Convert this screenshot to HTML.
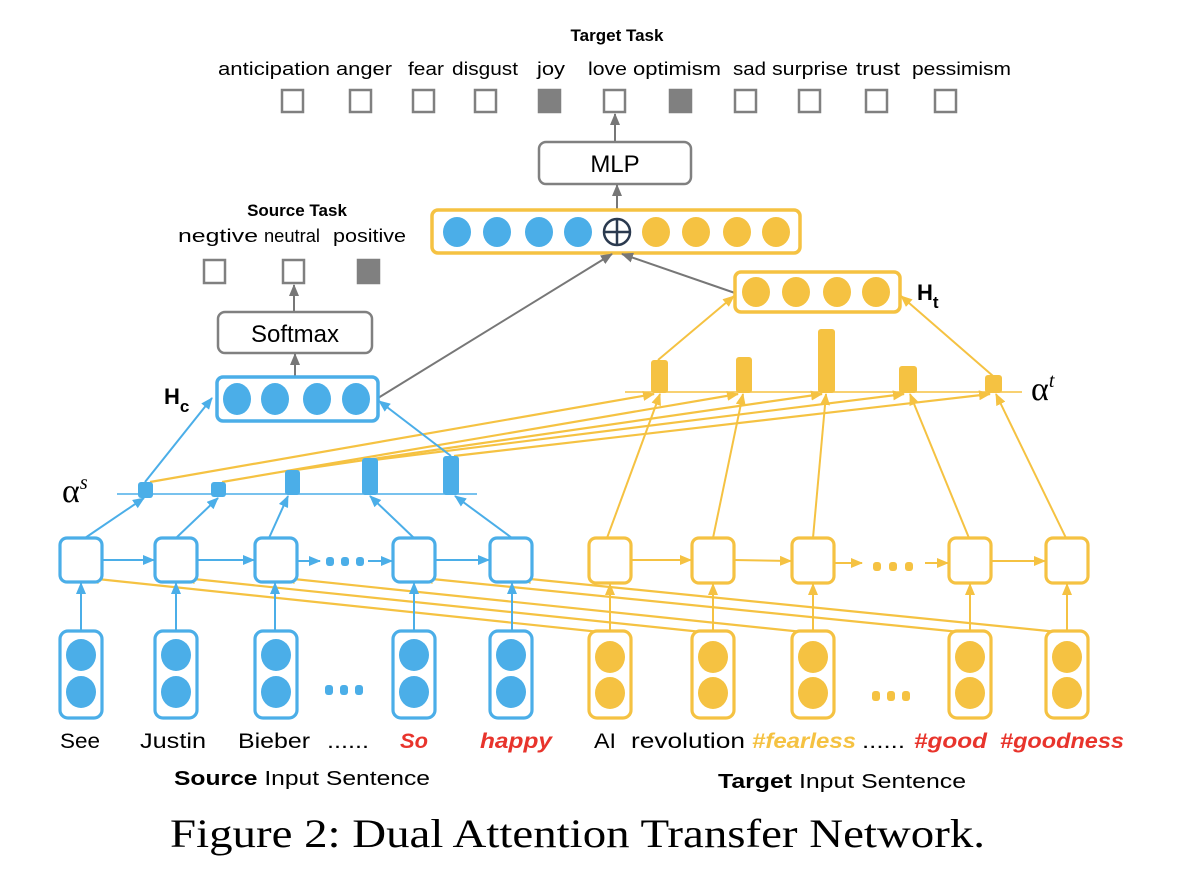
<!DOCTYPE html>
<html><head><meta charset="utf-8"><style>
html,body{margin:0;padding:0;background:#fff;}
svg{display:block;}
text{font-family:"Liberation Sans",sans-serif;}
text.serif{font-family:"Liberation Serif",serif;}
</style></head><body>
<svg width="1182" height="882" viewBox="0 0 1182 882" xmlns="http://www.w3.org/2000/svg">
<defs>
<marker id="ay" markerWidth="12" markerHeight="10" refX="11" refY="5" orient="auto" markerUnits="userSpaceOnUse"><path d="M0,0 L12,5 L0,10 z" fill="#f5c242"/></marker>
<marker id="ag" markerWidth="12" markerHeight="10" refX="11" refY="5" orient="auto" markerUnits="userSpaceOnUse"><path d="M0,0 L12,5 L0,10 z" fill="#777"/></marker>
<marker id="abb" markerWidth="12" markerHeight="10" refX="11" refY="5" orient="auto" markerUnits="userSpaceOnUse"><path d="M0,0 L12,5 L0,10 z" fill="#4baee8"/></marker>
</defs>

<text x="617" y="41" font-size="17" font-weight="bold" text-anchor="middle">Target Task</text>
<g font-size="18">
<text x="218" y="75" textLength="112" lengthAdjust="spacingAndGlyphs">anticipation</text>
<text x="336" y="75" textLength="56" lengthAdjust="spacingAndGlyphs">anger</text>
<text x="408" y="75" textLength="36" lengthAdjust="spacingAndGlyphs">fear</text>
<text x="452" y="75" textLength="66" lengthAdjust="spacingAndGlyphs">disgust</text>
<text x="537" y="75" textLength="28" lengthAdjust="spacingAndGlyphs">joy</text>
<text x="588" y="75" textLength="39" lengthAdjust="spacingAndGlyphs">love</text>
<text x="633" y="75" textLength="88" lengthAdjust="spacingAndGlyphs">optimism</text>
<text x="733" y="75" textLength="33" lengthAdjust="spacingAndGlyphs">sad</text>
<text x="772" y="75" textLength="76" lengthAdjust="spacingAndGlyphs">surprise</text>
<text x="856" y="75" textLength="44" lengthAdjust="spacingAndGlyphs">trust</text>
<text x="912" y="75" textLength="99" lengthAdjust="spacingAndGlyphs">pessimism</text>
</g>
<g stroke="#808080" stroke-width="2.5" fill="none">
<rect x="282" y="90" width="21" height="22"/>
<rect x="350" y="90" width="21" height="22"/>
<rect x="413" y="90" width="21" height="22"/>
<rect x="475" y="90" width="21" height="22"/>
<rect x="539" y="90" width="21" height="22" fill="#808080"/>
<rect x="604" y="90" width="21" height="22"/>
<rect x="670" y="90" width="21" height="22" fill="#808080"/>
<rect x="735" y="90" width="21" height="22"/>
<rect x="799" y="90" width="21" height="22"/>
<rect x="866" y="90" width="21" height="22"/>
<rect x="935" y="90" width="21" height="22"/>
</g>
<line x1="615" y1="142" x2="615" y2="114" stroke="#777" stroke-width="2" marker-end="url(#ag)"/>
<rect x="539" y="142" width="152" height="42" rx="7" fill="#fff" stroke="#808080" stroke-width="2.5"/>
<text x="615" y="172" font-size="24" text-anchor="middle">MLP</text>
<line x1="617" y1="209" x2="617" y2="185" stroke="#777" stroke-width="2" marker-end="url(#ag)"/>

<rect x="432" y="210" width="368" height="43" rx="6" fill="#fff" stroke="#f5c242" stroke-width="3.5"/>
<g fill="#4baee8"><ellipse cx="457" cy="232" rx="14" ry="15"/><ellipse cx="497" cy="232" rx="14" ry="15"/><ellipse cx="539" cy="232" rx="14" ry="15"/><ellipse cx="578" cy="232" rx="14" ry="15"/></g>
<g fill="#f5c242"><ellipse cx="656" cy="232" rx="14" ry="15"/><ellipse cx="696" cy="232" rx="14" ry="15"/><ellipse cx="737" cy="232" rx="14" ry="15"/><ellipse cx="776" cy="232" rx="14" ry="15"/></g>
<circle cx="617" cy="232" r="13" fill="none" stroke="#2b3a4f" stroke-width="2.5"/>
<line x1="604" y1="232" x2="630" y2="232" stroke="#2b3a4f" stroke-width="2.5"/>
<line x1="617" y1="219" x2="617" y2="245" stroke="#2b3a4f" stroke-width="2.5"/>

<text x="297" y="216" font-size="17" font-weight="bold" text-anchor="middle">Source Task</text>
<g font-size="18">
<text x="178" y="242" textLength="80" lengthAdjust="spacingAndGlyphs">negtive</text>
<text x="264" y="242" textLength="56" lengthAdjust="spacingAndGlyphs">neutral</text>
<text x="333" y="242" textLength="73" lengthAdjust="spacingAndGlyphs">positive</text>
</g>
<g stroke="#808080" stroke-width="2.5" fill="none">
<rect x="204" y="260" width="21" height="23"/>
<rect x="283" y="260" width="21" height="23"/>
<rect x="358" y="260" width="21" height="23" fill="#808080"/>
</g>
<line x1="294" y1="312" x2="294" y2="285" stroke="#777" stroke-width="2" marker-end="url(#ag)"/>
<rect x="218" y="312" width="154" height="41" rx="7" fill="#fff" stroke="#808080" stroke-width="2.5"/>
<text x="295" y="342" font-size="24" text-anchor="middle">Softmax</text>
<line x1="295" y1="377" x2="295" y2="354" stroke="#777" stroke-width="2" marker-end="url(#ag)"/>

<line x1="378" y1="398" x2="612" y2="254" stroke="#777" stroke-width="2" marker-end="url(#ag)"/>
<line x1="735" y1="293" x2="622" y2="254" stroke="#777" stroke-width="2" marker-end="url(#ag)"/>

<g stroke="#f5c242" stroke-width="2.2" fill="none" marker-end="url(#ay)">
<line x1="150" y1="482" x2="654" y2="394"/>
<line x1="222" y1="482" x2="738" y2="394"/>
<line x1="296" y1="470" x2="822" y2="394"/>
<line x1="374" y1="460" x2="904" y2="394"/>
<line x1="454" y1="456" x2="990" y2="394"/>
</g>
<g stroke="#f5c242" stroke-width="2.2" fill="none" marker-end="url(#ay)">
<line x1="600" y1="632" x2="88" y2="578"/>
<line x1="702" y1="632" x2="184" y2="578"/>
<line x1="803" y1="632" x2="284" y2="578"/>
<line x1="960" y1="632" x2="422" y2="578"/>
<line x1="1058" y1="632" x2="520" y2="578"/>
</g>

<rect x="217" y="377" width="161" height="44" rx="6" fill="#fff" stroke="#4baee8" stroke-width="3.5"/>
<g fill="#4baee8"><ellipse cx="237" cy="399" rx="14" ry="16"/><ellipse cx="275" cy="399" rx="14" ry="16"/><ellipse cx="317" cy="399" rx="14" ry="16"/><ellipse cx="356" cy="399" rx="14" ry="16"/></g>
<text x="164" y="404" font-size="22" font-weight="bold">H<tspan font-size="17" dy="8">c</tspan></text>

<text class="serif" x="62" y="502" font-size="34">α<tspan font-size="20" font-style="italic" dy="-13">s</tspan></text>
<line x1="117" y1="494" x2="477" y2="494" stroke="#4baee8" stroke-width="1.5"/>
<g fill="#4baee8">
<rect x="138" y="482" width="15" height="16" rx="3"/>
<rect x="211" y="482" width="15" height="15" rx="3"/>
<rect x="285" y="470" width="15" height="25" rx="3"/>
<rect x="362" y="458" width="16" height="37" rx="3"/>
<rect x="443" y="456" width="16" height="39" rx="3"/>
</g>
<g stroke="#4baee8" stroke-width="2" marker-end="url(#abb)">
<line x1="145" y1="482" x2="212" y2="398"/>
<line x1="451" y1="456" x2="379" y2="401"/>
<line x1="85" y1="538" x2="144" y2="498"/>
<line x1="176" y1="538" x2="218" y2="498"/>
<line x1="269" y1="538" x2="288" y2="496"/>
<line x1="414" y1="538" x2="370" y2="496"/>
<line x1="512" y1="538" x2="455" y2="496"/>
</g>

<g fill="#fff" stroke="#4baee8" stroke-width="3.2">
<rect x="60" y="538" width="42" height="44" rx="7"/>
<rect x="155" y="538" width="42" height="44" rx="7"/>
<rect x="255" y="538" width="42" height="44" rx="7"/>
<rect x="393" y="538" width="42" height="44" rx="7"/>
<rect x="490" y="538" width="42" height="44" rx="7"/>
</g>
<g stroke="#4baee8" stroke-width="2" marker-end="url(#abb)">
<line x1="102" y1="560" x2="154" y2="560"/>
<line x1="197" y1="560" x2="254" y2="560"/>
<line x1="297" y1="561" x2="320" y2="561"/>
<line x1="368" y1="561" x2="392" y2="561"/>
<line x1="435" y1="560" x2="489" y2="560"/>
</g>
<g fill="#4baee8"><rect x="326" y="557" width="8" height="9" rx="3"/><rect x="341" y="557" width="8" height="9" rx="3"/><rect x="356" y="557" width="8" height="9" rx="3"/></g>
<g stroke="#4baee8" stroke-width="2" marker-end="url(#abb)">
<line x1="81" y1="630" x2="81" y2="583"/>
<line x1="176" y1="630" x2="176" y2="583"/>
<line x1="275" y1="630" x2="275" y2="583"/>
<line x1="414" y1="630" x2="414" y2="583"/>
<line x1="512" y1="630" x2="512" y2="583"/>
</g>
<g fill="#fff" stroke="#4baee8" stroke-width="3.2">
<rect x="60" y="631" width="42" height="87" rx="8"/>
<rect x="155" y="631" width="42" height="87" rx="8"/>
<rect x="255" y="631" width="42" height="87" rx="8"/>
<rect x="393" y="631" width="42" height="87" rx="8"/>
<rect x="490" y="631" width="42" height="87" rx="8"/>
</g>
<g fill="#4baee8">
<ellipse cx="81" cy="655" rx="15" ry="16"/><ellipse cx="81" cy="692" rx="15" ry="16"/>
<ellipse cx="176" cy="655" rx="15" ry="16"/><ellipse cx="176" cy="692" rx="15" ry="16"/>
<ellipse cx="276" cy="655" rx="15" ry="16"/><ellipse cx="276" cy="692" rx="15" ry="16"/>
<ellipse cx="414" cy="655" rx="15" ry="16"/><ellipse cx="414" cy="692" rx="15" ry="16"/>
<ellipse cx="511" cy="655" rx="15" ry="16"/><ellipse cx="511" cy="692" rx="15" ry="16"/>
<rect x="325" y="685" width="8" height="10" rx="3"/><rect x="340" y="685" width="8" height="10" rx="3"/><rect x="355" y="685" width="8" height="10" rx="3"/>
</g>

<rect x="735" y="272" width="165" height="40" rx="6" fill="#fff" stroke="#f5c242" stroke-width="3.5"/>
<g fill="#f5c242"><ellipse cx="756" cy="292" rx="14" ry="15"/><ellipse cx="796" cy="292" rx="14" ry="15"/><ellipse cx="837" cy="292" rx="14" ry="15"/><ellipse cx="876" cy="292" rx="14" ry="15"/></g>
<text x="917" y="300" font-size="22" font-weight="bold">H<tspan font-size="17" dy="8">t</tspan></text>

<text class="serif" x="1031" y="400" font-size="34">α<tspan font-size="20" font-style="italic" dy="-13">t</tspan></text>
<line x1="625" y1="392" x2="1022" y2="392" stroke="#f5c242" stroke-width="1.5"/>
<g fill="#f5c242">
<rect x="651" y="360" width="17" height="33" rx="3"/>
<rect x="736" y="357" width="16" height="36" rx="3"/>
<rect x="818" y="329" width="17" height="64" rx="3"/>
<rect x="899" y="366" width="18" height="27" rx="3"/>
<rect x="985" y="375" width="17" height="18" rx="3"/>
</g>
<g stroke="#f5c242" stroke-width="2" marker-end="url(#ay)">
<line x1="658" y1="360" x2="734" y2="296"/>
<line x1="993" y1="376" x2="901" y2="296"/>
<line x1="607" y1="538" x2="660" y2="394"/>
<line x1="713" y1="538" x2="743" y2="394"/>
<line x1="813" y1="538" x2="826" y2="394"/>
<line x1="969" y1="538" x2="910" y2="394"/>
<line x1="1066" y1="538" x2="996" y2="394"/>
</g>

<g fill="#fff" stroke="#f5c242" stroke-width="3.2">
<rect x="589" y="538" width="42" height="45" rx="7"/>
<rect x="692" y="538" width="42" height="45" rx="7"/>
<rect x="792" y="538" width="42" height="45" rx="7"/>
<rect x="949" y="538" width="42" height="45" rx="7"/>
<rect x="1046" y="538" width="42" height="45" rx="7"/>
</g>
<g stroke="#f5c242" stroke-width="2" marker-end="url(#ay)">
<line x1="631" y1="560" x2="691" y2="560"/>
<line x1="734" y1="560" x2="791" y2="561"/>
<line x1="834" y1="563" x2="862" y2="563"/>
<line x1="925" y1="563" x2="948" y2="563"/>
<line x1="991" y1="561" x2="1045" y2="561"/>
</g>
<g fill="#f5c242"><rect x="873" y="562" width="8" height="9" rx="3"/><rect x="889" y="562" width="8" height="9" rx="3"/><rect x="905" y="562" width="8" height="9" rx="3"/></g>
<g stroke="#f5c242" stroke-width="2" marker-end="url(#ay)">
<line x1="610" y1="631" x2="610" y2="584"/>
<line x1="713" y1="631" x2="713" y2="584"/>
<line x1="813" y1="631" x2="813" y2="584"/>
<line x1="970" y1="631" x2="970" y2="584"/>
<line x1="1067" y1="631" x2="1067" y2="584"/>
</g>
<g fill="#fff" stroke="#f5c242" stroke-width="3.2">
<rect x="589" y="631" width="42" height="87" rx="8"/>
<rect x="692" y="631" width="42" height="87" rx="8"/>
<rect x="792" y="631" width="42" height="87" rx="8"/>
<rect x="949" y="631" width="42" height="87" rx="8"/>
<rect x="1046" y="631" width="42" height="87" rx="8"/>
</g>
<g fill="#f5c242">
<ellipse cx="610" cy="657" rx="15" ry="16"/><ellipse cx="610" cy="693" rx="15" ry="16"/>
<ellipse cx="713" cy="657" rx="15" ry="16"/><ellipse cx="713" cy="693" rx="15" ry="16"/>
<ellipse cx="813" cy="657" rx="15" ry="16"/><ellipse cx="813" cy="693" rx="15" ry="16"/>
<ellipse cx="970" cy="657" rx="15" ry="16"/><ellipse cx="970" cy="693" rx="15" ry="16"/>
<ellipse cx="1067" cy="657" rx="15" ry="16"/><ellipse cx="1067" cy="693" rx="15" ry="16"/>
<rect x="872" y="691" width="8" height="10" rx="3"/><rect x="887" y="691" width="8" height="10" rx="3"/><rect x="902" y="691" width="8" height="10" rx="3"/>
</g>

<g font-size="21">
<text x="60" y="748" textLength="40" lengthAdjust="spacingAndGlyphs">See</text>
<text x="140" y="748" textLength="66" lengthAdjust="spacingAndGlyphs">Justin</text>
<text x="238" y="748" textLength="72" lengthAdjust="spacingAndGlyphs">Bieber</text>
<text x="327" y="748" textLength="42" lengthAdjust="spacingAndGlyphs">......</text>
<text x="400" y="748" textLength="28" lengthAdjust="spacingAndGlyphs" fill="#e8342c" font-weight="bold" font-style="italic">So</text>
<text x="480" y="748" textLength="72" lengthAdjust="spacingAndGlyphs" fill="#e8342c" font-weight="bold" font-style="italic">happy</text>
<text x="594" y="748" textLength="22" lengthAdjust="spacingAndGlyphs">AI</text>
<text x="631" y="748" textLength="114" lengthAdjust="spacingAndGlyphs">revolution</text>
<text x="752" y="748" textLength="104" lengthAdjust="spacingAndGlyphs" fill="#f5c242" font-weight="bold" font-style="italic">#fearless</text>
<text x="862" y="748" textLength="43" lengthAdjust="spacingAndGlyphs">......</text>
<text x="914" y="748" textLength="73" lengthAdjust="spacingAndGlyphs" fill="#e8342c" font-weight="bold" font-style="italic">#good</text>
<text x="1000" y="748" textLength="124" lengthAdjust="spacingAndGlyphs" fill="#e8342c" font-weight="bold" font-style="italic">#goodness</text>
</g>
<text x="174" y="785" font-size="20" textLength="256" lengthAdjust="spacingAndGlyphs"><tspan font-weight="bold">Source</tspan> Input Sentence</text>
<text x="718" y="788" font-size="20" textLength="248" lengthAdjust="spacingAndGlyphs"><tspan font-weight="bold">Target</tspan> Input Sentence</text>

<text class="serif" x="170" y="847" font-size="40" textLength="815" lengthAdjust="spacingAndGlyphs">Figure 2: Dual Attention Transfer Network.</text>
</svg>
</body></html>
